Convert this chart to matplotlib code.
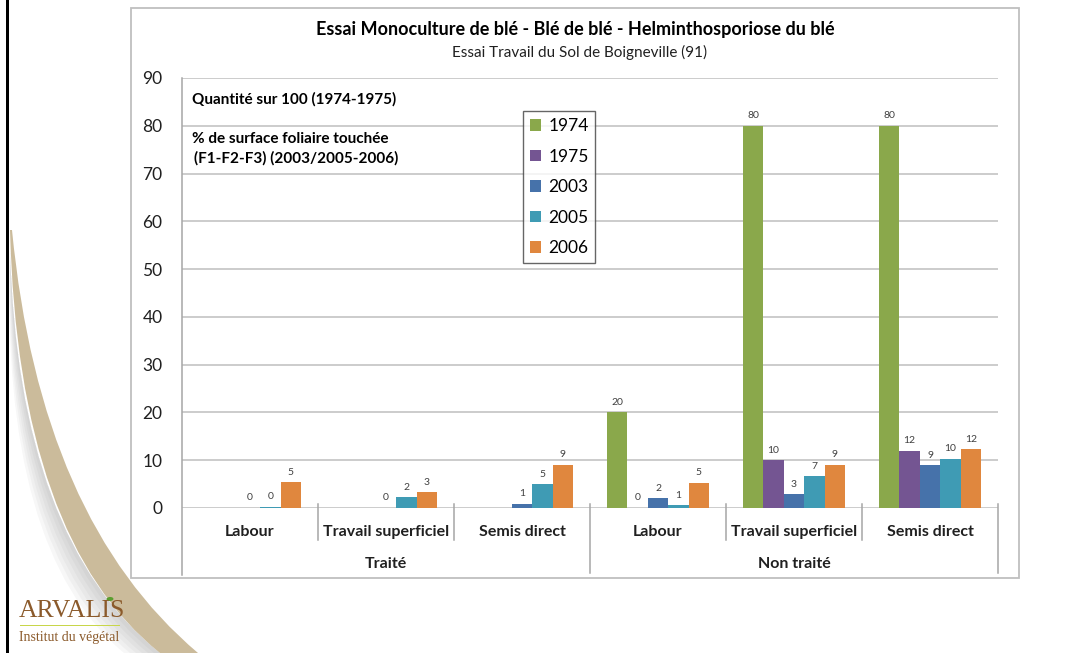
import matplotlib
matplotlib.use("Agg")
import matplotlib.pyplot as plt
from matplotlib.patches import Rectangle, PathPatch, Ellipse
from matplotlib.path import Path
import numpy as np

plt.rcParams['font.family'] = ['Lato', 'DejaVu Sans']

# Données
# ========================================
annees = ['1974', '1975', '2003', '2005', '2006']
sous_categories = ['Labour', 'Travail superficiel', 'Semis direct',
                   'Labour', 'Travail superficiel', 'Semis direct']
groupes = ['Traité', 'Non traité']

# None = pas de barre ni d'étiquette
v1974 = [None, None, None, 20, 80, 80]
v1975 = [None, None, None, 0, 10, 12]
v2003 = [0, 0, 0.9, 2.0, 2.9, 8.9]
v2005 = [0.3, 2.2, 4.95, 0.6, 6.6, 10.3]
v2006 = [5.4, 3.3, 9.0, 5.3, 9.0, 12.25]
series = [v1974, v1975, v2003, v2005, v2006]

couleurs = ['#8aa84b', '#745592', '#4672aa', '#3f9bb4', '#e0873e']

titre = 'Essai Monoculture de blé - Blé de blé - Helminthosporiose du blé'
sous_titre = 'Essai Travail du Sol de Boigneville (91)'

# Mise en page (en pixels de l'image)
# ========================================
W, H = 1073, 653
def fx(x):
    return x / W
def fy(y):
    return 1 - y / H

fig = plt.figure(figsize=(W / 100, H / 100), dpi=100)
fig.patch.set_facecolor('white')

# Décor de la diapositive : trait noir, bande beige, ombre
fig.add_artist(Rectangle((fx(6), 0), 3 / W, 1, transform=fig.transFigure,
                         facecolor='black', edgecolor='none', zorder=0))

def bande(p0, c, p1, q1, d, q0):
    verts = [p0, c, p1, q1, d, q0, p0]
    verts = [(fx(x), fy(y)) for x, y in verts]
    codes = [Path.MOVETO, Path.CURVE3, Path.CURVE3, Path.LINETO,
             Path.CURVE3, Path.CURVE3, Path.CLOSEPOLY]
    return Path(verts, codes)

# ombre grise à gauche de la bande
for dx in [36, 30, 24, 18, 12, 6]:
    ombre = PathPatch(bande((10, 250), (18 - dx * 0.5, 540 + dx * 0.3), (160 - dx, 653),
                            (160, 653), (18, 540), (10, 250)),
                      transform=fig.transFigure, facecolor='#707070',
                      edgecolor='none', alpha=0.055, zorder=0)
    fig.add_artist(ombre)

beige = PathPatch(bande((10, 230), (18, 540), (160, 653),
                        (198, 653), (40, 520), (12, 230)),
                  transform=fig.transFigure, facecolor='#cbbb9b',
                  edgecolor='none', zorder=0)
fig.add_artist(beige)

# Cadre du graphique
fig.add_artist(Rectangle((fx(131), fy(578)), (1019 - 131) / W, (578 - 8) / H,
                         transform=fig.transFigure, facecolor='white',
                         edgecolor='#bfbfbf', linewidth=1.3, zorder=1))

fig.text(fx(575), fy(30), titre, ha='center', va='center', fontsize=13,
         fontweight='bold', color='black', zorder=3)
fig.text(fx(580), fy(52), sous_titre, ha='center', va='center', fontsize=11,
         color='#202020', zorder=3)

# Axes
# ========================================
ax = fig.add_axes([fx(182), fy(508), (998 - 182) / W, (508 - 78) / H])
ax.set_facecolor('none')
ax.set_zorder(2)

largeur = 0.15
x = np.arange(len(sous_categories))
for k, (annee, vals, coul) in enumerate(zip(annees, series, couleurs)):
    xs = x + (k - 2) * largeur
    for xi, v in zip(xs, vals):
        if v is None:
            continue
        ax.bar(xi, v, width=largeur, color=coul, edgecolor='none', zorder=3)
        ax.annotate('{:.0f}'.format(v), (xi, v), xytext=(0, 4),
                    textcoords='offset points', ha='center', va='bottom',
                    fontsize=7.5, color='#404040')

ax.set_xlim(-0.5, 5.5)
ax.set_ylim(0, 90)
ax.set_yticks(np.arange(0, 91, 10))
ax.tick_params(axis='y', length=0, pad=14, labelsize=12.5, labelcolor='#202020')
ax.set_xticks([])
ax.yaxis.grid(True, color='#bfbfbf', linewidth=1.1)
ax.set_axisbelow(True)
for s in ax.spines.values():
    s.set_visible(False)

# Axe des catégories à deux niveaux
trans = ax.get_xaxis_transform()
gris = '#a6a6a6'
ax.plot([-0.5, -0.5], [1, -0.156], color=gris, lw=1.1, transform=trans, clip_on=False)
for xs in [0.5, 1.5, 3.5, 4.5]:
    ax.plot([xs, xs], [0.0093, -0.074], color=gris, lw=1.1, transform=trans, clip_on=False)
for xs in [2.5, 5.5]:
    ax.plot([xs, xs], [0.0093, -0.152], color=gris, lw=1.1, transform=trans, clip_on=False)

for xi, lab in zip(x, sous_categories):
    ax.text(xi, -0.056, lab, transform=trans, ha='center', va='center',
            fontsize=11.5, fontweight='bold', color='#202020')
for xi, lab in zip([1, 4], groupes):
    ax.text(xi, -0.13, lab, transform=trans, ha='center', va='center',
            fontsize=11.5, fontweight='bold', color='#202020')

# Légende
poignees = [Rectangle((0, 0), 1, 1, facecolor=c, edgecolor='none') for c in couleurs]
leg = ax.legend(poignees, annees, loc='upper left',
                bbox_to_anchor=((523 - 182) / 816, (508 - 111) / 430),
                fontsize=12.5, frameon=True, fancybox=False, borderaxespad=0,
                handlelength=0.65, handleheight=0.65, handletextpad=0.4,
                labelspacing=0.84, borderpad=0.4)
leg.get_frame().set_edgecolor('#404040')
leg.get_frame().set_linewidth(1.0)

# Textes explicatifs
fig.text(fx(192), fy(99), 'Quantité sur 100 (1974-1975)', va='center',
         fontsize=11, fontweight='bold', color='black', zorder=3)
fig.text(fx(192), fy(139), '% de surface foliaire touchée', va='center',
         fontsize=11, fontweight='bold', color='black', zorder=3)
fig.text(fx(194), fy(158), '(F1-F2-F3) (2003/2005-2006)', va='center',
         fontsize=11, fontweight='bold', color='black', zorder=3)

# Logo
brun = '#8b5a2b'
fig.text(fx(19), fy(611), 'ARVALIS', va='center', ha='left', fontsize=18.5,
         family='Liberation Serif', color=brun)
fig.add_artist(Rectangle((fx(20), fy(626)), 100 / W, 1.5 / H,
                         transform=fig.transFigure, facecolor='#c8d64a',
                         edgecolor='none'))
fig.add_artist(Ellipse((fx(110), fy(599)), 7 / W, 4 / H, angle=30,
                       transform=fig.transFigure, facecolor='#5a9e2f',
                       edgecolor='none'))
fig.text(fx(19), fy(637), 'Institut du végétal', va='center', ha='left',
         fontsize=10, family='Liberation Serif', color=brun)

fig.savefig('out.png', dpi=100)
